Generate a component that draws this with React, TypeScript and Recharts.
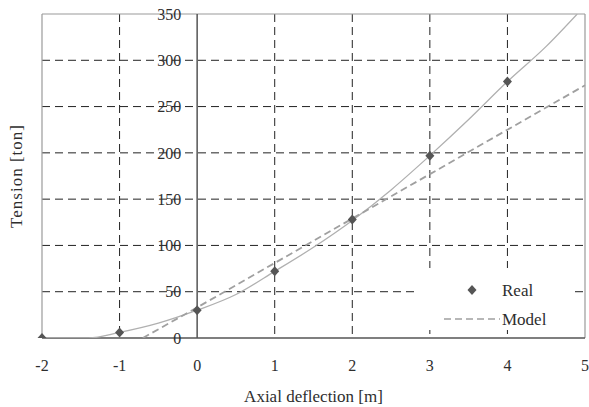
import {
  CartesianGrid,
  ComposedChart,
  Label,
  Legend,
  Line,
  ReferenceDot,
  ReferenceLine,
  Scatter,
  XAxis,
  YAxis,
} from "recharts";

const xTicks = [-2, -1, 0, 1, 2, 3, 4, 5];
const yTicks = [0, 50, 100, 150, 200, 250, 300, 350];

// measured points
const realX = [-2, -1, 0, 1, 2, 3, 4];
const realY = [0, 6, 30, 72, 128, 197, 277];

// solid grey curve through the measurements
const curveX = [-2, -1.4, -1, -0.5, 0, 0.5, 1, 1.5, 2, 2.5, 3, 3.5, 4, 4.5, 4.9];
const curveY = [0, 0, 6, 16, 30, 47, 72, 98, 127, 160, 197, 236, 277, 315, 350];

// dashed model line
const modelX = [-0.7, 0, 1, 2, 3, 4, 5];
const modelY = [0, 33, 81, 129, 177, 225, 273];

const realData = realX.map((x, i) => ({ x, y: realY[i] }));
const curveData = curveX.map((x, i) => ({ x, y: curveY[i] }));
const modelData = modelX.map((x, i) => ({ x, y: modelY[i] }));

// inner grid only, the frame and axes are drawn separately
const gridX = xTicks.filter((v) => v !== -2 && v !== 0 && v !== 5);
const gridY = yTicks.filter((v) => v !== 0 && v !== 350);

const font = "'Liberation Serif', 'Times New Roman', serif";
const textColor = "#2e2e2e";

const Diamond = (props: any) => {
  const { cx, cy } = props;
  if (cx == null || cy == null) return null;
  return (
    <polygon
      points={`${cx},${cy - 5} ${cx + 4.5},${cy} ${cx},${cy + 5} ${cx - 4.5},${cy}`}
      fill="#555555"
    />
  );
};

const NoTick = () => <g />;

const renderYTitle = (props: any) => {
  const vb = props.viewBox || {};
  const cy = (vb.y || 0) + (vb.height || 0) / 2;
  return (
    <text
      x={16}
      y={cy}
      transform={`rotate(-90, 16, ${cy})`}
      textAnchor="middle"
      dominantBaseline="central"
      fontFamily={font}
      fontSize={17}
      letterSpacing={1}
      fill={textColor}
    >
      Tension [ton]
    </text>
  );
};

const renderLegend = () => (
  <svg width={155} height={62}>
    <polygon points="54,17 58.5,22 54,27 49.5,22" fill="#555555" />
    <text x={84} y={22} dominantBaseline="central" fontFamily={font} fontSize={17} fill={textColor}>
      Real
    </text>
    <line x1={26} x2={82} y1={51} y2={51} stroke="#a0a0a0" strokeWidth={1.5} strokeDasharray="7 4" />
    <text x={84} y={51} dominantBaseline="central" fontFamily={font} fontSize={17} fill={textColor}>
      Model
    </text>
  </svg>
);

export default function App() {
  return (
    <div style={{ position: "absolute", left: 0, top: 0, background: "#fff" }}>
      <ComposedChart width={589} height={407} margin={{ top: 14, right: 4, bottom: 0, left: 0 }}>
        <CartesianGrid
          stroke="#222"
          strokeDasharray="8 5"
          verticalValues={gridX}
          horizontalValues={gridY}
        />
        <XAxis
          type="number"
          dataKey="x"
          domain={[-2, 5]}
          ticks={xTicks}
          interval={0}
          height={69}
          axisLine={false}
          tickLine={false}
          tickSize={6}
          tickMargin={16}
          tick={{ fill: textColor, fontSize: 16, fontFamily: font }}
        >
          <Label
            value="Axial deflection [m]"
            position="insideBottom"
            offset={5}
            fill={textColor}
            fontSize={17}
            fontFamily={font}
          />
        </XAxis>
        <YAxis
          type="number"
          dataKey="y"
          domain={[0, 350]}
          ticks={yTicks}
          interval={0}
          allowDataOverflow
          width={42}
          axisLine={false}
          tickLine={false}
          tick={NoTick}
        >
          <Label content={renderYTitle} />
        </YAxis>
        {/* grey frame */}
        <ReferenceLine x={-2} stroke="#9a9a9a" strokeWidth={1.2} />
        <ReferenceLine x={5} stroke="#9a9a9a" strokeWidth={1.2} />
        <ReferenceLine y={350} stroke="#9a9a9a" strokeWidth={1.2} />
        {/* axes crossing at the origin */}
        <ReferenceLine x={0} stroke="#555" strokeWidth={1.5} />
        <ReferenceLine y={0} stroke="#555" strokeWidth={1.5} />
        {yTicks.map((v) => (
          <ReferenceDot
            key={v}
            x={0}
            y={v}
            r={0}
            fill="none"
            stroke="none"
            label={{ value: v, position: "left", offset: 16, fill: textColor, fontSize: 16, fontFamily: font }}
          />
        ))}
        <Line
          data={curveData}
          dataKey="y"
          type="monotone"
          stroke="#b0b0b0"
          strokeWidth={1.3}
          dot={false}
          isAnimationActive={false}
          legendType="none"
        />
        <Line
          data={modelData}
          dataKey="y"
          type="linear"
          stroke="#a0a0a0"
          strokeWidth={1.8}
          strokeDasharray="7 4"
          dot={false}
          isAnimationActive={false}
          name="Model"
        />
        <Scatter data={realData} dataKey="y" shape={Diamond} isAnimationActive={false} name="Real" />
        <Legend
          layout="vertical"
          align="center"
          verticalAlign="middle"
          content={renderLegend}
          wrapperStyle={{ left: 418, top: 268, width: 155, height: 62, background: "#fff" }}
        />
      </ComposedChart>
    </div>
  );
}
